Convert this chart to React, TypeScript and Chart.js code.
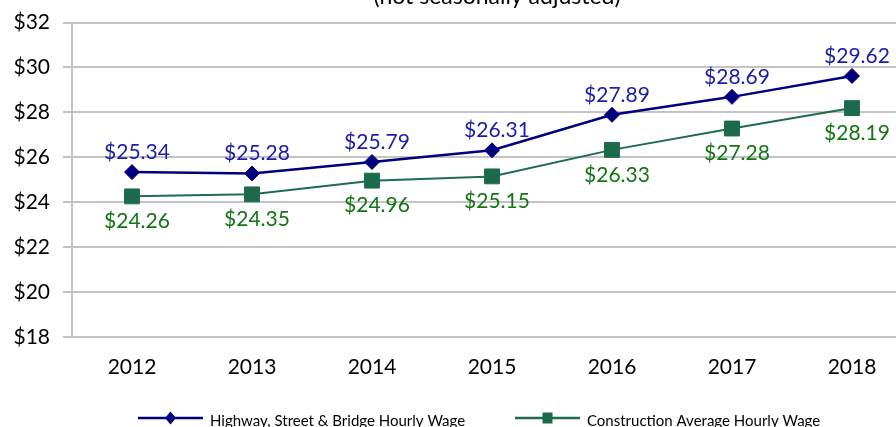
import React, { useEffect, useRef } from "react";
import { Chart, registerables } from "chart.js";

Chart.register(...registerables);

const years = [2012, 2013, 2014, 2015, 2016, 2017, 2018];
const highwayWage = [25.34, 25.28, 25.79, 26.31, 27.89, 28.69, 29.62];
const constructionWage = [24.26, 24.35, 24.96, 25.15, 26.33, 27.28, 28.19];
const seriesNames = ["Highway, Street & Bridge Hourly Wage", "Construction Average Hourly Wage"];
const subtitle = "(not seasonally adjusted)";
const yTicks = [18, 20, 22, 24, 26, 28, 30, 32];

const FONT = "Lato, 'Open Sans', sans-serif";
const BLUE = "#00007f";
const BLUE_LABEL = "#1c1ca6";
const GREEN = "#1e6b50";
const GREEN_MARK = "#1b6a4a";
const GREEN_LABEL = "#137513";

const labelPlugin = {
  id: "valueLabels",
  afterDatasetsDraw(chart: any) {
    const ctx = chart.ctx;
    ctx.save();
    ctx.font = `21px ${FONT}`;
    ctx.textAlign = "center";
    ctx.textBaseline = "middle";
    chart.data.datasets.forEach((ds: any, i: number) => {
      const meta = chart.getDatasetMeta(i);
      meta.data.forEach((pt: any, j: number) => {
        const v = ds.data[j].y;
        const txt = "$" + v.toFixed(2);
        ctx.fillStyle = i === 0 ? BLUE_LABEL : GREEN_LABEL;
        const dy = i === 0 ? -20 : 25;
        ctx.fillText(txt, pt.x + 5, pt.y + dy);
      });
    });
    ctx.restore();
  },
};

const decorPlugin = {
  id: "decor",
  afterDraw(chart: any) {
    const ctx = chart.ctx;
    ctx.save();
    ctx.font = `23px ${FONT}`;
    ctx.fillStyle = "#000";
    ctx.textAlign = "center";
    ctx.textBaseline = "alphabetic";
    ctx.fillText(subtitle, 497, 4);

    const items = [
      { x0: 138, x1: 203, tx: 210, color: BLUE, mark: BLUE, style: "diamond", name: seriesNames[0] },
      { x0: 515, x1: 580, tx: 587, color: GREEN, mark: GREEN_MARK, style: "square", name: seriesNames[1] },
    ];
    const ly = 418;
    items.forEach((it) => {
      ctx.strokeStyle = it.color;
      ctx.lineWidth = 2.5;
      ctx.beginPath();
      ctx.moveTo(it.x0, ly);
      ctx.lineTo(it.x1, ly);
      ctx.stroke();
      const cx = (it.x0 + it.x1) / 2;
      ctx.fillStyle = it.mark;
      ctx.beginPath();
      if (it.style === "diamond") {
        ctx.moveTo(cx, ly - 6.5);
        ctx.lineTo(cx + 5.5, ly);
        ctx.lineTo(cx, ly + 6.5);
        ctx.lineTo(cx - 5.5, ly);
        ctx.closePath();
      } else {
        ctx.rect(cx - 5, ly - 5.5, 10, 11);
      }
      ctx.fill();
      ctx.font = `15px ${FONT}`;
      ctx.fillStyle = "#000";
      ctx.textAlign = "left";
      ctx.textBaseline = "alphabetic";
      ctx.fillText(it.name, it.tx, 426);
    });
    ctx.restore();
  },
};

export default function App() {
  const ref = useRef<HTMLCanvasElement | null>(null);
  useEffect(() => {
    if (!ref.current) return;
    const chart = new Chart(ref.current, {
      type: "line",
      data: {
        datasets: [
          {
            label: seriesNames[0],
            data: years.map((y, i) => ({ x: y, y: highwayWage[i] })),
            borderColor: BLUE,
            backgroundColor: BLUE,
            borderWidth: 2.5,
            pointStyle: "rectRot",
            pointRadius: 7.5,
            pointBorderWidth: 1,
            pointBorderColor: BLUE,
            pointBackgroundColor: BLUE,
            tension: 0,
          },
          {
            label: seriesNames[1],
            data: years.map((y, i) => ({ x: y, y: constructionWage[i] })),
            borderColor: GREEN,
            backgroundColor: GREEN_MARK,
            borderWidth: 2,
            pointStyle: "rect",
            pointRadius: 10.5,
            pointBorderWidth: 1,
            pointBorderColor: GREEN_MARK,
            pointBackgroundColor: GREEN_MARK,
            tension: 0,
          },
        ],
      },
      options: {
        responsive: false,
        animation: false,
        layout: { autoPadding: false, padding: { top: 22.5, right: 0, left: 0, bottom: 0 } },
        plugins: {
          legend: { display: false },
          tooltip: { enabled: false },
          title: { display: false },
        },
        scales: {
          x: {
            type: "linear",
            min: 2011.5,
            max: 2011.5 + 824 / 120,
            afterBuildTicks: (scale: any) => {
              scale.ticks = years.map((v) => ({ value: v }));
            },
            afterFit: (scale: any) => {
              scale.height = 90;
              scale.paddingLeft = 0;
              scale.paddingRight = 0;
            },
            grid: { display: false },
            border: { display: false },
            ticks: {
              color: "#000",
              font: { family: FONT, size: 21 },
              padding: 10,
              maxRotation: 0,
              autoSkip: false,
              callback: (v: any) => String(v),
            },
          },
          y: {
            min: 18,
            max: 32,
            afterBuildTicks: (scale: any) => {
              scale.ticks = yTicks.map((v) => ({ value: v }));
            },
            afterFit: (scale: any) => {
              scale.width = 72;
              scale.paddingTop = 0;
              scale.paddingBottom = 0;
            },
            grid: { color: "#c3c3c3", lineWidth: 2, tickLength: 9 },
            border: { display: true, color: "#c3c3c3", width: 2 },
            ticks: {
              color: "#000",
              font: { family: FONT, size: 21 },
              padding: 13,
              callback: (v: any) => "$" + v,
            },
          },
        },
      },
      plugins: [labelPlugin, decorPlugin],
    });
    return () => chart.destroy();
  }, []);
  return (
    <div style={{ position: "absolute", left: 0, top: 0, width: 896, height: 427, background: "#fff" }}>
      <canvas ref={ref} width={896} height={427} style={{ display: "block" }} />
    </div>
  );
}
